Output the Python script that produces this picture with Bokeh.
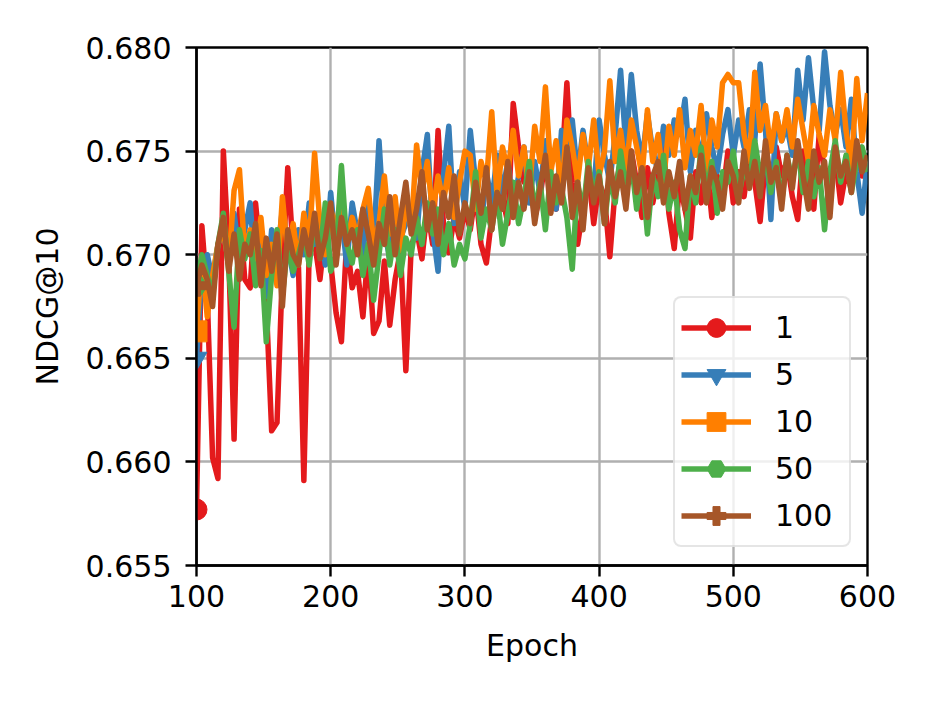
from bokeh.plotting import figure
from bokeh.models import Range1d, FixedTicker, NumeralTickFormatter, Legend, LegendItem
from bokeh.embed import file_html
from bokeh.resources import INLINE

epochs = list(range(100, 601, 4))

ndcg_1 = [
    0.6577, 0.6714, 0.6680, 0.6602, 0.6592, 0.6750, 0.6700, 0.6611, 0.6722, 0.6688,
    0.6684, 0.6725, 0.6698, 0.6676, 0.6615, 0.6619, 0.6692, 0.6742, 0.6702, 0.6694,
    0.6591, 0.6702, 0.6706, 0.6688, 0.6712, 0.6696, 0.6672, 0.6658, 0.6708, 0.6684,
    0.6692, 0.6670, 0.6703, 0.6662, 0.6668, 0.6697, 0.6666, 0.6688, 0.6702, 0.6644,
    0.6704, 0.6712, 0.6698, 0.6722, 0.6705, 0.6760, 0.6715, 0.6701, 0.6718, 0.6708,
    0.6722, 0.6712, 0.6730, 0.6705, 0.6696, 0.6718, 0.6740, 0.6728, 0.6715, 0.6773,
    0.6752, 0.6735, 0.6742, 0.6718, 0.6728, 0.6746, 0.6730, 0.6722, 0.6740, 0.6783,
    0.6735, 0.6705, 0.6722, 0.6740, 0.6715, 0.6735, 0.6728, 0.6699, 0.6732, 0.6745,
    0.6728, 0.6750, 0.6735, 0.6718, 0.6742, 0.6725, 0.6738, 0.6752, 0.6720, 0.6703,
    0.6735, 0.6722, 0.6708, 0.6740, 0.6725, 0.6745, 0.6718, 0.6738, 0.6728, 0.6750,
    0.6725, 0.6740, 0.6728, 0.6748, 0.6735, 0.6716, 0.6745, 0.6730, 0.6752, 0.6738,
    0.6745, 0.6728, 0.6717, 0.6750, 0.6735, 0.6722, 0.6758, 0.6740, 0.6730, 0.6748,
    0.6725, 0.6740, 0.6732, 0.6752, 0.6738, 0.6745,
]

ndcg_5 = [
    0.6650, 0.6692, 0.6700, 0.6688, 0.6705, 0.6712, 0.6695, 0.6720, 0.6700, 0.6712,
    0.6725, 0.6690, 0.6705, 0.6680, 0.6712, 0.6698, 0.6722, 0.6705, 0.6690, 0.6712,
    0.6700, 0.6725, 0.6705, 0.6715, 0.6695, 0.6730, 0.6702, 0.6718, 0.6695, 0.6725,
    0.6710, 0.6700, 0.6728, 0.6705, 0.6755, 0.6712, 0.6698, 0.6722, 0.6708, 0.6715,
    0.6722, 0.6708, 0.6740, 0.6758, 0.6712, 0.6692, 0.6738, 0.6762, 0.6715, 0.6740,
    0.6722, 0.6760, 0.6735, 0.6712, 0.6740, 0.6725, 0.6748, 0.6730, 0.6745, 0.6722,
    0.6738, 0.6752, 0.6725, 0.6745, 0.6730, 0.6755, 0.6738, 0.6722, 0.6760, 0.6748,
    0.6765, 0.6738, 0.6760, 0.6742, 0.6730, 0.6765, 0.6748, 0.6735, 0.6758, 0.6789,
    0.6752, 0.6787, 0.6760, 0.6745, 0.6768, 0.6750, 0.6740, 0.6762, 0.6748, 0.6765,
    0.6758, 0.6775, 0.6740, 0.6760, 0.6745, 0.6768, 0.6752, 0.6740, 0.6758, 0.6770,
    0.6748, 0.6765, 0.6752, 0.6770, 0.6755, 0.6792, 0.6760, 0.6717, 0.6768, 0.6755,
    0.6762, 0.6748, 0.6789, 0.6765, 0.6795, 0.6770, 0.6760, 0.6798, 0.6772, 0.6758,
    0.6770, 0.6752, 0.6775, 0.6740, 0.6720, 0.6745,
]

ndcg_10 = [
    0.6663, 0.6698, 0.6670, 0.6690, 0.6705, 0.6712, 0.6695, 0.6731, 0.6741, 0.6700,
    0.6712, 0.6698, 0.6718, 0.6690, 0.6705, 0.6685, 0.6728, 0.6700, 0.6715, 0.6695,
    0.6720, 0.6705, 0.6749, 0.6715, 0.6700, 0.6722, 0.6712, 0.6730, 0.6705, 0.6718,
    0.6708, 0.6722, 0.6732, 0.6705, 0.6715, 0.6738, 0.6710, 0.6728, 0.6702, 0.6725,
    0.6712, 0.6753, 0.6730, 0.6745, 0.6720, 0.6738, 0.6725, 0.6742, 0.6718, 0.6735,
    0.6750, 0.6748, 0.6722, 0.6745, 0.6735, 0.6769, 0.6728, 0.6752, 0.6740, 0.6760,
    0.6738, 0.6752, 0.6730, 0.6762, 0.6745, 0.6781, 0.6740, 0.6755, 0.6728, 0.6765,
    0.6752, 0.6735, 0.6758, 0.6742, 0.6765, 0.6738, 0.6750, 0.6784, 0.6745, 0.6760,
    0.6740, 0.6765, 0.6752, 0.6738, 0.6770, 0.6745, 0.6758, 0.6735, 0.6762, 0.6748,
    0.6770, 0.6742, 0.6760, 0.6748, 0.6772, 0.6740, 0.6765, 0.6752, 0.6783, 0.6787,
    0.6783, 0.6783, 0.6758, 0.6745, 0.6788, 0.6760, 0.6772, 0.6750, 0.6768, 0.6755,
    0.6770, 0.6752, 0.6775, 0.6760, 0.6745, 0.6772, 0.6758, 0.6748, 0.6770, 0.6755,
    0.6788, 0.6760, 0.6742, 0.6785, 0.6755, 0.6778,
]

ndcg_50 = [
    0.6685, 0.6700, 0.6690, 0.6680, 0.6705, 0.6720, 0.6692, 0.6665, 0.6712, 0.6698,
    0.6710, 0.6685, 0.6702, 0.6658, 0.6690, 0.6712, 0.6680, 0.6705, 0.6692, 0.6700,
    0.6710, 0.6695, 0.6718, 0.6700, 0.6725, 0.6692, 0.6700, 0.6743, 0.6705, 0.6696,
    0.6712, 0.6690, 0.6705, 0.6678, 0.6700, 0.6722, 0.6695, 0.6712, 0.6690, 0.6708,
    0.6700, 0.6718, 0.6705, 0.6725, 0.6710, 0.6722, 0.6700, 0.6715, 0.6695, 0.6705,
    0.6698, 0.6715, 0.6740, 0.6708, 0.6722, 0.6712, 0.6730, 0.6705, 0.6720, 0.6735,
    0.6715, 0.6728, 0.6745, 0.6720, 0.6735, 0.6712, 0.6740, 0.6725, 0.6732, 0.6718,
    0.6693, 0.6735, 0.6720, 0.6745, 0.6728, 0.6740, 0.6715, 0.6738, 0.6725, 0.6750,
    0.6732, 0.6745, 0.6722, 0.6740, 0.6710, 0.6738, 0.6728, 0.6748, 0.6722, 0.6735,
    0.6712, 0.6703, 0.6738, 0.6725, 0.6752, 0.6730, 0.6745, 0.6720, 0.6740, 0.6735,
    0.6750, 0.6728, 0.6742, 0.6735, 0.6755, 0.6738, 0.6748, 0.6730, 0.6745, 0.6725,
    0.6748, 0.6735, 0.6752, 0.6730, 0.6745, 0.6728, 0.6742, 0.6712, 0.6740, 0.6755,
    0.6735, 0.6748, 0.6730, 0.6745, 0.6752, 0.6740,
]

ndcg_100 = [
    0.6685, 0.6695, 0.6688, 0.6675, 0.6705, 0.6718, 0.6692, 0.6710, 0.6688, 0.6705,
    0.6700, 0.6715, 0.6685, 0.6708, 0.6692, 0.6710, 0.6675, 0.6712, 0.6700, 0.6695,
    0.6712, 0.6700, 0.6720, 0.6698, 0.6708, 0.6725, 0.6695, 0.6718, 0.6705, 0.6712,
    0.6700, 0.6722, 0.6710, 0.6695, 0.6715, 0.6705, 0.6728, 0.6700, 0.6718, 0.6735,
    0.6710, 0.6722, 0.6740, 0.6712, 0.6725, 0.6705, 0.6730, 0.6718, 0.6738, 0.6710,
    0.6725, 0.6715, 0.6735, 0.6720, 0.6742, 0.6712, 0.6730, 0.6722, 0.6745, 0.6718,
    0.6735, 0.6722, 0.6740, 0.6715, 0.6732, 0.6748, 0.6720, 0.6738, 0.6725, 0.6752,
    0.6718, 0.6735, 0.6712, 0.6742, 0.6725, 0.6738, 0.6715, 0.6745, 0.6728, 0.6740,
    0.6722, 0.6750, 0.6730, 0.6742, 0.6718, 0.6738, 0.6745, 0.6725, 0.6740, 0.6728,
    0.6745, 0.6722, 0.6738, 0.6730, 0.6748, 0.6725, 0.6742, 0.6735, 0.6722, 0.6745,
    0.6738, 0.6725, 0.6750, 0.6732, 0.6745, 0.6728, 0.6755, 0.6735, 0.6742, 0.6722,
    0.6748, 0.6732, 0.6755, 0.6738, 0.6722, 0.6750, 0.6735, 0.6745, 0.6718, 0.6752,
    0.6738, 0.6745, 0.6730, 0.6755, 0.6740, 0.6748,
]

labels = ["1", "5", "10", "50", "100"]
colors = ["#e41a1c", "#377eb8", "#ff7f00", "#4daf4a", "#a65628"]
markers = ["circle", "inverted_triangle", "square", "hex", "plus"]
series = [ndcg_1, ndcg_5, ndcg_10, ndcg_50, ndcg_100]

x_ticks = [100, 200, 300, 400, 500, 600]
y_ticks = [0.655, 0.660, 0.665, 0.670, 0.675, 0.680]

FONT = "DejaVu Sans"
FS = "30px"
LW = 2.4

p = figure(width=930, height=697, frame_width=671, frame_height=518,
           output_backend="svg", toolbar_location=None,
           x_range=Range1d(100, 600), y_range=Range1d(0.655, 0.680),
           min_border_left=196, min_border_top=47, min_border_right=63,
           min_border_bottom=132)
p.background_fill_color = "white"
p.border_fill_color = "white"
p.outline_line_color = "black"
p.outline_line_width = LW

p.xaxis.ticker = FixedTicker(ticks=x_ticks)
p.yaxis.ticker = FixedTicker(ticks=y_ticks)
p.yaxis.formatter = NumeralTickFormatter(format="0.000")
p.xaxis.axis_label = "Epoch"
p.yaxis.axis_label = "NDCG@10"
for ax in (p.xaxis, p.yaxis):
    ax.axis_line_color = "black"
    ax.axis_line_width = LW
    ax.major_tick_line_color = "black"
    ax.major_tick_line_width = LW
    ax.major_tick_out = 11
    ax.major_tick_in = 0
    ax.minor_tick_line_color = None
    ax.major_label_text_font = FONT
    ax.major_label_text_font_size = FS
    ax.major_label_text_color = "black"
    ax.axis_label_text_font = FONT
    ax.axis_label_text_font_size = FS
    ax.axis_label_text_font_style = "normal"
    ax.axis_label_text_color = "black"
p.xaxis.major_label_standoff = 8
p.yaxis.major_label_standoff = 14
p.xaxis.axis_label_standoff = 18
p.yaxis.axis_label_standoff = 18

p.grid.grid_line_color = "#b0b0b0"
p.grid.grid_line_width = LW

items = []
for lab, col, mk, ys in zip(labels, colors, markers, series):
    ln = p.line(epochs, ys, line_color=col, line_width=5.5, line_join="round")
    sc = p.scatter([epochs[0]], [ys[0]], marker=mk, size=21,
                   fill_color=col, line_color=col)
    items.append(LegendItem(label=lab, renderers=[ln, sc]))

legend = Legend(items=items, location=(477, 18))
legend.label_text_font = FONT
legend.label_text_font_size = FS
legend.label_text_color = "black"
legend.glyph_width = 70
legend.glyph_height = 47
legend.label_height = 30
legend.label_width = 68
legend.spacing = 0
legend.padding = 6
legend.label_standoff = 24
legend.margin = 0
legend.border_line_color = "#cccccc"
legend.border_line_width = LW
legend.background_fill_color = "white"
legend.background_fill_alpha = 0.8
try:
    legend.border_radius = 8
except Exception:
    pass
p.add_layout(legend, "center")

open("out.html", "w").write(file_html(p, INLINE))
